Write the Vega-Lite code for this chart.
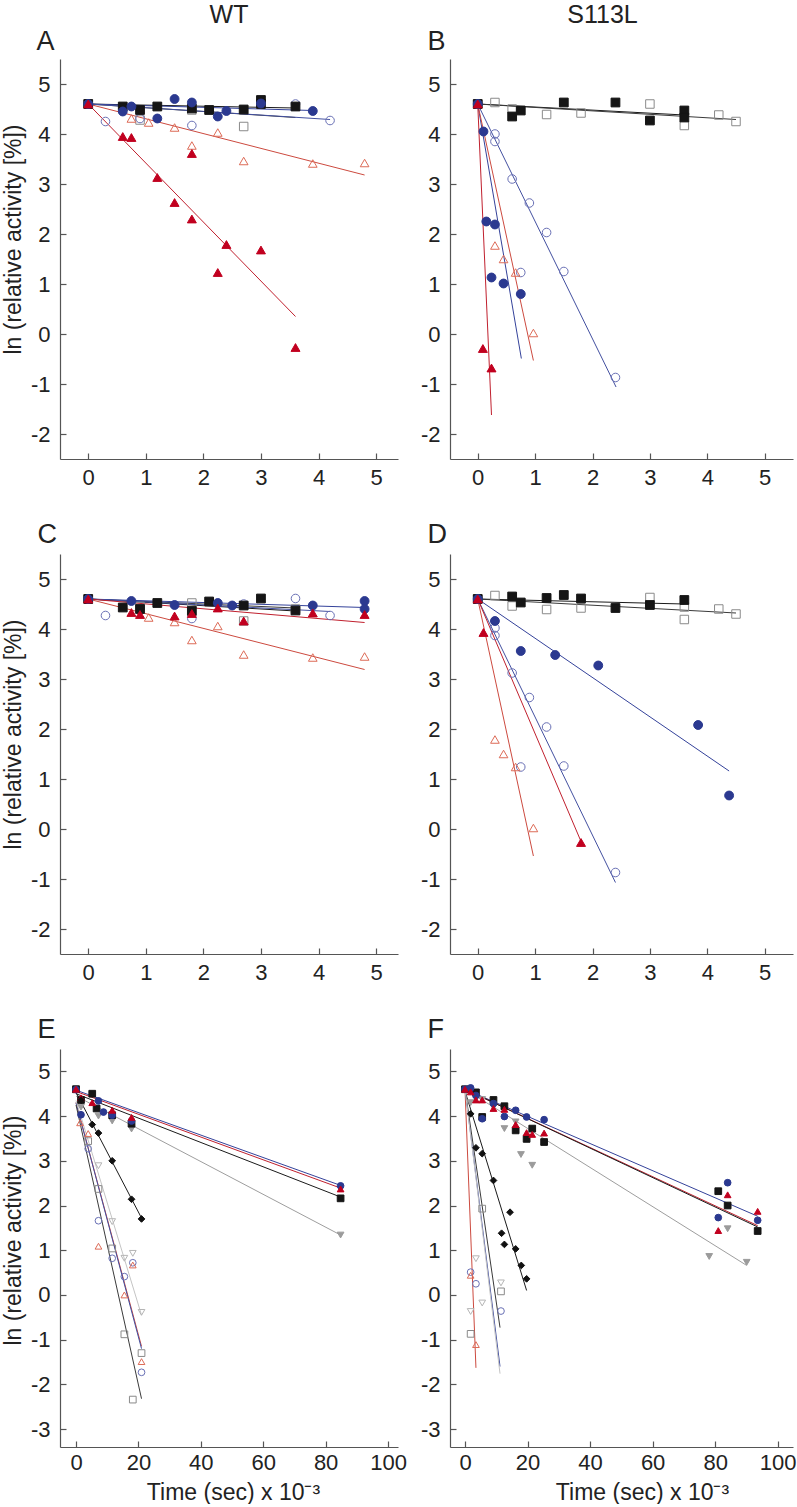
{
"$schema":"https://vega.github.io/schema/vega-lite/v6.json",
"padding":{"left":2,"top":3,"right":2,"bottom":0},
"datasets":{
"pts":[
{"p":"A","s":"osq","x":0,"y":4.6},{"p":"A","s":"osq","x":0.9,"y":4.28},{"p":"A","s":"osq","x":1.8,"y":4.48},{"p":"A","s":"osq","x":2.7,"y":4.15},
{"p":"A","s":"oci","x":0,"y":4.6},{"p":"A","s":"oci","x":0.3,"y":4.25},{"p":"A","s":"oci","x":0.9,"y":4.31},{"p":"A","s":"oci","x":1.8,"y":4.17},{"p":"A","s":"oci","x":3.6,"y":4.6},{"p":"A","s":"oci","x":4.2,"y":4.27},
{"p":"A","s":"otr","x":0,"y":4.6},{"p":"A","s":"otr","x":0.75,"y":4.31},{"p":"A","s":"otr","x":1.05,"y":4.23},{"p":"A","s":"otr","x":1.5,"y":4.13},{"p":"A","s":"otr","x":1.8,"y":3.77},{"p":"A","s":"otr","x":2.25,"y":4.03},{"p":"A","s":"otr","x":2.7,"y":3.46},{"p":"A","s":"otr","x":3.9,"y":3.41},{"p":"A","s":"otr","x":4.8,"y":3.42},
{"p":"A","s":"fsq","x":0,"y":4.6},{"p":"A","s":"fsq","x":0.6,"y":4.55},{"p":"A","s":"fsq","x":0.9,"y":4.48},{"p":"A","s":"fsq","x":1.2,"y":4.55},{"p":"A","s":"fsq","x":1.8,"y":4.51},{"p":"A","s":"fsq","x":2.1,"y":4.48},{"p":"A","s":"fsq","x":2.7,"y":4.49},{"p":"A","s":"fsq","x":3.0,"y":4.68},{"p":"A","s":"fsq","x":3.0,"y":4.6},{"p":"A","s":"fsq","x":3.6,"y":4.55},
{"p":"A","s":"fci","x":0,"y":4.6},{"p":"A","s":"fci","x":0.6,"y":4.45},{"p":"A","s":"fci","x":0.75,"y":4.55},{"p":"A","s":"fci","x":1.2,"y":4.31},{"p":"A","s":"fci","x":1.5,"y":4.7},{"p":"A","s":"fci","x":1.8,"y":4.63},{"p":"A","s":"fci","x":2.25,"y":4.35},{"p":"A","s":"fci","x":2.4,"y":4.46},{"p":"A","s":"fci","x":3.0,"y":4.61},{"p":"A","s":"fci","x":3.9,"y":4.46},
{"p":"A","s":"ftr","x":0,"y":4.6},{"p":"A","s":"ftr","x":0.6,"y":3.95},{"p":"A","s":"ftr","x":0.75,"y":3.93},{"p":"A","s":"ftr","x":1.2,"y":3.13},{"p":"A","s":"ftr","x":1.5,"y":2.63},{"p":"A","s":"ftr","x":1.8,"y":3.61},{"p":"A","s":"ftr","x":1.8,"y":2.3},{"p":"A","s":"ftr","x":2.4,"y":1.79},{"p":"A","s":"ftr","x":2.25,"y":1.23},{"p":"A","s":"ftr","x":3.0,"y":1.68},{"p":"A","s":"ftr","x":3.6,"y":-0.27},

{"p":"B","s":"osq","x":0,"y":4.6},{"p":"B","s":"osq","x":0.3,"y":4.63},{"p":"B","s":"osq","x":0.6,"y":4.5},{"p":"B","s":"osq","x":1.2,"y":4.39},{"p":"B","s":"osq","x":1.8,"y":4.42},{"p":"B","s":"osq","x":3.0,"y":4.6},{"p":"B","s":"osq","x":3.6,"y":4.17},{"p":"B","s":"osq","x":4.2,"y":4.38},{"p":"B","s":"osq","x":4.5,"y":4.25},
{"p":"B","s":"oci","x":0,"y":4.6},{"p":"B","s":"oci","x":0.3,"y":4.0},{"p":"B","s":"oci","x":0.3,"y":3.85},{"p":"B","s":"oci","x":0.6,"y":3.1},{"p":"B","s":"oci","x":0.9,"y":2.62},{"p":"B","s":"oci","x":1.2,"y":2.03},{"p":"B","s":"oci","x":0.75,"y":1.23},{"p":"B","s":"oci","x":1.5,"y":1.25},{"p":"B","s":"oci","x":2.4,"y":-0.87},
{"p":"B","s":"otr","x":0,"y":4.6},{"p":"B","s":"otr","x":0.3,"y":1.77},{"p":"B","s":"otr","x":0.45,"y":1.5},{"p":"B","s":"otr","x":0.66,"y":1.23},{"p":"B","s":"otr","x":0.97,"y":0.02},
{"p":"B","s":"fsq","x":0,"y":4.6},{"p":"B","s":"fsq","x":0.6,"y":4.35},{"p":"B","s":"fsq","x":0.75,"y":4.47},{"p":"B","s":"fsq","x":1.5,"y":4.63},{"p":"B","s":"fsq","x":2.4,"y":4.63},{"p":"B","s":"fsq","x":3.0,"y":4.27},{"p":"B","s":"fsq","x":3.6,"y":4.47},{"p":"B","s":"fsq","x":3.6,"y":4.33},
{"p":"B","s":"fci","x":0,"y":4.6},{"p":"B","s":"fci","x":0.1,"y":4.05},{"p":"B","s":"fci","x":0.15,"y":2.25},{"p":"B","s":"fci","x":0.3,"y":2.19},{"p":"B","s":"fci","x":0.24,"y":1.13},{"p":"B","s":"fci","x":0.45,"y":1.01},{"p":"B","s":"fci","x":0.75,"y":0.8},
{"p":"B","s":"ftr","x":0,"y":4.6},{"p":"B","s":"ftr","x":0.09,"y":-0.29},{"p":"B","s":"ftr","x":0.24,"y":-0.68},

{"p":"C","s":"osq","x":0,"y":4.6},{"p":"C","s":"osq","x":0.9,"y":4.45},{"p":"C","s":"osq","x":1.8,"y":4.52},{"p":"C","s":"osq","x":2.7,"y":4.16},{"p":"C","s":"osq","x":3.6,"y":4.4},
{"p":"C","s":"oci","x":0,"y":4.6},{"p":"C","s":"oci","x":0.3,"y":4.27},{"p":"C","s":"oci","x":1.8,"y":4.21},{"p":"C","s":"oci","x":2.7,"y":4.5},{"p":"C","s":"oci","x":3.6,"y":4.61},{"p":"C","s":"oci","x":4.2,"y":4.27},
{"p":"C","s":"otr","x":0,"y":4.6},{"p":"C","s":"otr","x":1.05,"y":4.23},{"p":"C","s":"otr","x":1.5,"y":4.14},{"p":"C","s":"otr","x":1.8,"y":3.78},{"p":"C","s":"otr","x":2.25,"y":4.06},{"p":"C","s":"otr","x":2.7,"y":3.49},{"p":"C","s":"otr","x":3.9,"y":3.43},{"p":"C","s":"otr","x":4.8,"y":3.45},
{"p":"C","s":"fsq","x":0,"y":4.6},{"p":"C","s":"fsq","x":0.6,"y":4.43},{"p":"C","s":"fsq","x":0.9,"y":4.4},{"p":"C","s":"fsq","x":1.2,"y":4.52},{"p":"C","s":"fsq","x":1.8,"y":4.36},{"p":"C","s":"fsq","x":2.1,"y":4.55},{"p":"C","s":"fsq","x":2.7,"y":4.47},{"p":"C","s":"fsq","x":3.0,"y":4.61},{"p":"C","s":"fsq","x":3.6,"y":4.37},
{"p":"C","s":"fci","x":0,"y":4.6},{"p":"C","s":"fci","x":0.75,"y":4.56},{"p":"C","s":"fci","x":1.5,"y":4.48},{"p":"C","s":"fci","x":2.25,"y":4.52},{"p":"C","s":"fci","x":2.5,"y":4.47},{"p":"C","s":"fci","x":3.9,"y":4.47},{"p":"C","s":"fci","x":4.8,"y":4.56},{"p":"C","s":"fci","x":4.8,"y":4.4},
{"p":"C","s":"ftr","x":0,"y":4.6},{"p":"C","s":"ftr","x":0.75,"y":4.33},{"p":"C","s":"ftr","x":0.9,"y":4.29},{"p":"C","s":"ftr","x":1.5,"y":4.26},{"p":"C","s":"ftr","x":1.8,"y":4.31},{"p":"C","s":"ftr","x":2.25,"y":4.42},{"p":"C","s":"ftr","x":2.7,"y":4.16},{"p":"C","s":"ftr","x":3.9,"y":4.32},{"p":"C","s":"ftr","x":4.8,"y":4.29},

{"p":"D","s":"osq","x":0,"y":4.6},{"p":"D","s":"osq","x":0.3,"y":4.67},{"p":"D","s":"osq","x":0.6,"y":4.46},{"p":"D","s":"osq","x":1.2,"y":4.39},{"p":"D","s":"osq","x":1.8,"y":4.42},{"p":"D","s":"osq","x":3.0,"y":4.63},{"p":"D","s":"osq","x":3.6,"y":4.44},{"p":"D","s":"osq","x":3.6,"y":4.19},{"p":"D","s":"osq","x":4.2,"y":4.4},{"p":"D","s":"osq","x":4.5,"y":4.3},
{"p":"D","s":"oci","x":0,"y":4.6},{"p":"D","s":"oci","x":0.3,"y":4.02},{"p":"D","s":"oci","x":0.3,"y":3.87},{"p":"D","s":"oci","x":0.6,"y":3.12},{"p":"D","s":"oci","x":0.9,"y":2.63},{"p":"D","s":"oci","x":1.2,"y":2.04},{"p":"D","s":"oci","x":0.75,"y":1.24},{"p":"D","s":"oci","x":1.5,"y":1.26},{"p":"D","s":"oci","x":2.4,"y":-0.87},
{"p":"D","s":"otr","x":0,"y":4.6},{"p":"D","s":"otr","x":0.3,"y":1.79},{"p":"D","s":"otr","x":0.45,"y":1.5},{"p":"D","s":"otr","x":0.66,"y":1.24},{"p":"D","s":"otr","x":0.97,"y":0.02},
{"p":"D","s":"fsq","x":0,"y":4.6},{"p":"D","s":"fsq","x":0.6,"y":4.65},{"p":"D","s":"fsq","x":0.75,"y":4.53},{"p":"D","s":"fsq","x":1.2,"y":4.62},{"p":"D","s":"fsq","x":1.5,"y":4.68},{"p":"D","s":"fsq","x":1.8,"y":4.61},{"p":"D","s":"fsq","x":2.4,"y":4.42},{"p":"D","s":"fsq","x":3.0,"y":4.48},{"p":"D","s":"fsq","x":3.6,"y":4.58},
{"p":"D","s":"fci","x":0,"y":4.6},{"p":"D","s":"fci","x":0.3,"y":4.16},{"p":"D","s":"fci","x":0.75,"y":3.56},{"p":"D","s":"fci","x":1.35,"y":3.48},{"p":"D","s":"fci","x":2.1,"y":3.27},{"p":"D","s":"fci","x":3.84,"y":2.08},{"p":"D","s":"fci","x":4.38,"y":0.67},
{"p":"D","s":"ftr","x":0,"y":4.6},{"p":"D","s":"ftr","x":0.1,"y":3.93},{"p":"D","s":"ftr","x":1.8,"y":-0.27},

{"p":"E","s":"osq","x":0,"y":4.6},{"p":"E","s":"osq","x":3.9,"y":3.44},{"p":"E","s":"osq","x":7.2,"y":2.37},{"p":"E","s":"osq","x":11.6,"y":1.04},{"p":"E","s":"osq","x":15.5,"y":-0.88},{"p":"E","s":"osq","x":18.2,"y":-2.34},{"p":"E","s":"osq","x":21.0,"y":-1.3},
{"p":"E","s":"oci","x":3.9,"y":3.27},{"p":"E","s":"oci","x":7.2,"y":1.66},{"p":"E","s":"oci","x":11.6,"y":0.82},{"p":"E","s":"oci","x":15.5,"y":0.41},{"p":"E","s":"oci","x":18.2,"y":0.72},{"p":"E","s":"oci","x":21.0,"y":-1.73},
{"p":"E","s":"otr","x":1.3,"y":3.85},{"p":"E","s":"otr","x":3.9,"y":3.61},{"p":"E","s":"otr","x":7.2,"y":1.09},{"p":"E","s":"otr","x":15.5,"y":0.0},{"p":"E","s":"otr","x":18.2,"y":0.67},{"p":"E","s":"otr","x":21.0,"y":-1.49},
{"p":"E","s":"odt","x":7.2,"y":2.89},{"p":"E","s":"odt","x":11.6,"y":1.64},{"p":"E","s":"odt","x":15.5,"y":0.82},{"p":"E","s":"odt","x":18.2,"y":0.93},{"p":"E","s":"odt","x":21.0,"y":-0.39},
{"p":"E","s":"fdt","x":0,"y":4.6},{"p":"E","s":"fdt","x":1.6,"y":4.2},{"p":"E","s":"fdt","x":7.2,"y":4.0},{"p":"E","s":"fdt","x":11.6,"y":3.89},{"p":"E","s":"fdt","x":17.8,"y":3.71},{"p":"E","s":"fdt","x":84.8,"y":1.34},
{"p":"E","s":"fsq","x":0,"y":4.6},{"p":"E","s":"fsq","x":1.6,"y":4.36},{"p":"E","s":"fsq","x":5.2,"y":4.5},{"p":"E","s":"fsq","x":6.6,"y":4.17},{"p":"E","s":"fsq","x":11.6,"y":4.02},{"p":"E","s":"fsq","x":17.8,"y":3.83},{"p":"E","s":"fsq","x":84.8,"y":2.16},
{"p":"E","s":"fci","x":0,"y":4.59},{"p":"E","s":"fci","x":1.6,"y":4.03},{"p":"E","s":"fci","x":7.2,"y":4.34},{"p":"E","s":"fci","x":8.8,"y":4.09},{"p":"E","s":"fci","x":11.6,"y":4.02},{"p":"E","s":"fci","x":17.8,"y":3.89},{"p":"E","s":"fci","x":84.8,"y":2.44},
{"p":"E","s":"ftr","x":0,"y":4.6},{"p":"E","s":"ftr","x":1.6,"y":4.41},{"p":"E","s":"ftr","x":5.2,"y":4.3},{"p":"E","s":"ftr","x":11.6,"y":4.13},{"p":"E","s":"ftr","x":17.8,"y":3.97},{"p":"E","s":"ftr","x":84.8,"y":2.37},
{"p":"E","s":"fdi","x":1.6,"y":4.36},{"p":"E","s":"fdi","x":5.2,"y":3.81},{"p":"E","s":"fdi","x":7.2,"y":3.62},{"p":"E","s":"fdi","x":11.6,"y":3.0},{"p":"E","s":"fdi","x":17.8,"y":2.14},{"p":"E","s":"fdi","x":21.0,"y":1.7},

{"p":"F","s":"osq","x":5.5,"y":1.93},{"p":"F","s":"osq","x":1.8,"y":-0.87},{"p":"F","s":"osq","x":11.5,"y":0.08},
{"p":"F","s":"oci","x":1.8,"y":0.51},{"p":"F","s":"oci","x":3.5,"y":0.25},{"p":"F","s":"oci","x":11.5,"y":-0.36},
{"p":"F","s":"otr","x":1.8,"y":0.44},{"p":"F","s":"otr","x":3.5,"y":-1.11},
{"p":"F","s":"odt","x":3.5,"y":0.81},{"p":"F","s":"odt","x":1.8,"y":-0.37},{"p":"F","s":"odt","x":5.5,"y":-0.18},{"p":"F","s":"odt","x":11.5,"y":0.27},
{"p":"F","s":"fdt","x":0,"y":4.6},{"p":"F","s":"fdt","x":1.8,"y":4.3},{"p":"F","s":"fdt","x":5.5,"y":4.37},{"p":"F","s":"fdt","x":9.1,"y":4.2},{"p":"F","s":"fdt","x":12.6,"y":3.72},{"p":"F","s":"fdt","x":16.2,"y":3.87},{"p":"F","s":"fdt","x":17.9,"y":3.14},{"p":"F","s":"fdt","x":21.5,"y":2.9},{"p":"F","s":"fdt","x":78.1,"y":0.86},{"p":"F","s":"fdt","x":84.0,"y":1.48},{"p":"F","s":"fdt","x":90.1,"y":0.73},
{"p":"F","s":"fsq","x":0,"y":4.6},{"p":"F","s":"fsq","x":3.5,"y":4.53},{"p":"F","s":"fsq","x":5.5,"y":3.98},{"p":"F","s":"fsq","x":9.1,"y":4.36},{"p":"F","s":"fsq","x":12.6,"y":4.22},{"p":"F","s":"fsq","x":16.2,"y":3.68},{"p":"F","s":"fsq","x":19.7,"y":3.49},{"p":"F","s":"fsq","x":21.5,"y":3.72},{"p":"F","s":"fsq","x":25.3,"y":3.42},{"p":"F","s":"fsq","x":81.0,"y":2.32},{"p":"F","s":"fsq","x":84.0,"y":2.0},{"p":"F","s":"fsq","x":93.6,"y":1.43},
{"p":"F","s":"fci","x":0,"y":4.6},{"p":"F","s":"fci","x":1.8,"y":4.63},{"p":"F","s":"fci","x":3.5,"y":4.46},{"p":"F","s":"fci","x":5.5,"y":3.94},{"p":"F","s":"fci","x":9.1,"y":4.28},{"p":"F","s":"fci","x":12.6,"y":3.99},{"p":"F","s":"fci","x":16.2,"y":4.13},{"p":"F","s":"fci","x":19.7,"y":3.98},{"p":"F","s":"fci","x":25.3,"y":3.92},{"p":"F","s":"fci","x":81.0,"y":1.73},{"p":"F","s":"fci","x":84.0,"y":2.51},{"p":"F","s":"fci","x":93.6,"y":1.67},
{"p":"F","s":"ftr","x":0,"y":4.6},{"p":"F","s":"ftr","x":1.8,"y":4.54},{"p":"F","s":"ftr","x":3.5,"y":4.36},{"p":"F","s":"ftr","x":5.5,"y":4.36},{"p":"F","s":"ftr","x":9.1,"y":4.17},{"p":"F","s":"ftr","x":12.6,"y":4.15},{"p":"F","s":"ftr","x":16.2,"y":3.81},{"p":"F","s":"ftr","x":19.7,"y":3.63},{"p":"F","s":"ftr","x":21.5,"y":3.59},{"p":"F","s":"ftr","x":25.3,"y":3.62},{"p":"F","s":"ftr","x":81.0,"y":1.44},{"p":"F","s":"ftr","x":84.0,"y":2.24},{"p":"F","s":"ftr","x":93.6,"y":1.87},
{"p":"F","s":"fdi","x":1.8,"y":4.05},{"p":"F","s":"fdi","x":3.5,"y":3.29},{"p":"F","s":"fdi","x":5.5,"y":3.16},{"p":"F","s":"fdi","x":9.1,"y":2.56},{"p":"F","s":"fdi","x":11.7,"y":1.38},{"p":"F","s":"fdi","x":12.6,"y":1.13},{"p":"F","s":"fdi","x":14.4,"y":1.85},{"p":"F","s":"fdi","x":16.2,"y":1.03},{"p":"F","s":"fdi","x":18.0,"y":0.66},{"p":"F","s":"fdi","x":19.7,"y":0.36}
],
"lns":[
{"p":"A","s":"fsq","x":0,"y":4.6},{"p":"A","s":"fsq","x":3.6,"y":4.52},
{"p":"A","s":"osq","x":0,"y":4.6},{"p":"A","s":"osq","x":3.6,"y":4.33},
{"p":"A","s":"fci","x":0,"y":4.6},{"p":"A","s":"fci","x":3.9,"y":4.47},
{"p":"A","s":"oci","x":0,"y":4.6},{"p":"A","s":"oci","x":4.2,"y":4.29},
{"p":"A","s":"otr","x":0,"y":4.6},{"p":"A","s":"otr","x":4.8,"y":3.18},
{"p":"A","s":"ftr","x":0,"y":4.6},{"p":"A","s":"ftr","x":3.6,"y":0.35},
{"p":"B","s":"fsq","x":0,"y":4.6},{"p":"B","s":"fsq","x":3.6,"y":4.38},
{"p":"B","s":"osq","x":0,"y":4.6},{"p":"B","s":"osq","x":4.5,"y":4.29},
{"p":"B","s":"fci","x":0,"y":4.6},{"p":"B","s":"fci","x":0.76,"y":-0.49},
{"p":"B","s":"oci","x":0,"y":4.6},{"p":"B","s":"oci","x":2.41,"y":-1.06},
{"p":"B","s":"otr","x":0,"y":4.6},{"p":"B","s":"otr","x":0.97,"y":-0.53},
{"p":"B","s":"ftr","x":0,"y":4.6},{"p":"B","s":"ftr","x":0.24,"y":-1.62},
{"p":"C","s":"fsq","x":0,"y":4.6},{"p":"C","s":"fsq","x":3.6,"y":4.36},
{"p":"C","s":"osq","x":0,"y":4.6},{"p":"C","s":"osq","x":3.6,"y":4.42},
{"p":"C","s":"fci","x":0,"y":4.6},{"p":"C","s":"fci","x":4.8,"y":4.43},
{"p":"C","s":"oci","x":0,"y":4.6},{"p":"C","s":"oci","x":4.2,"y":4.35},
{"p":"C","s":"ftr","x":0,"y":4.6},{"p":"C","s":"ftr","x":4.8,"y":4.13},
{"p":"C","s":"otr","x":0,"y":4.6},{"p":"C","s":"otr","x":4.8,"y":3.19},
{"p":"D","s":"fsq","x":0,"y":4.6},{"p":"D","s":"fsq","x":3.6,"y":4.5},
{"p":"D","s":"osq","x":0,"y":4.6},{"p":"D","s":"osq","x":4.5,"y":4.32},
{"p":"D","s":"fci","x":0,"y":4.6},{"p":"D","s":"fci","x":4.38,"y":1.16},
{"p":"D","s":"oci","x":0,"y":4.6},{"p":"D","s":"oci","x":2.4,"y":-1.07},
{"p":"D","s":"otr","x":0,"y":4.6},{"p":"D","s":"otr","x":0.97,"y":-0.54},
{"p":"D","s":"ftr","x":0,"y":4.6},{"p":"D","s":"ftr","x":1.8,"y":-0.25},
{"p":"E","s":"fci","x":0,"y":4.58},{"p":"E","s":"fci","x":84.8,"y":2.45},
{"p":"E","s":"ftr","x":0,"y":4.55},{"p":"E","s":"ftr","x":84.8,"y":2.39},
{"p":"E","s":"fsq","x":0,"y":4.5},{"p":"E","s":"fsq","x":84.8,"y":2.19},
{"p":"E","s":"fdt","x":0,"y":4.45},{"p":"E","s":"fdt","x":84.8,"y":1.34},
{"p":"E","s":"fdi","x":0,"y":4.53},{"p":"E","s":"fdi","x":21.0,"y":1.72},
{"p":"E","s":"otr","x":0,"y":4.3},{"p":"E","s":"otr","x":21.0,"y":-1.15},
{"p":"E","s":"oci","x":0,"y":4.3},{"p":"E","s":"oci","x":21.0,"y":-1.2},
{"p":"E","s":"osq","x":0,"y":4.25},{"p":"E","s":"osq","x":21.0,"y":-2.32},
{"p":"E","s":"odt","x":0,"y":4.35},{"p":"E","s":"odt","x":21.0,"y":-0.45},
{"p":"F","s":"fci","x":0,"y":4.6},{"p":"F","s":"fci","x":93.6,"y":1.76},
{"p":"F","s":"ftr","x":0,"y":4.6},{"p":"F","s":"ftr","x":93.6,"y":1.55},
{"p":"F","s":"fsq","x":0,"y":4.6},{"p":"F","s":"fsq","x":93.6,"y":1.52},
{"p":"F","s":"fdt","x":0,"y":4.6},{"p":"F","s":"fdt","x":90.1,"y":0.66},
{"p":"F","s":"fdi","x":0,"y":4.56},{"p":"F","s":"fdi","x":19.7,"y":0.1},
{"p":"F","s":"otr","x":0,"y":4.6},{"p":"F","s":"otr","x":3.5,"y":-1.63},
{"p":"F","s":"oci","x":0,"y":4.6},{"p":"F","s":"oci","x":11.2,"y":-1.6},
{"p":"F","s":"osq","x":0,"y":4.6},{"p":"F","s":"osq","x":11.2,"y":-0.73},
{"p":"F","s":"odt","x":0,"y":4.6},{"p":"F","s":"odt","x":11.2,"y":-1.76}
]
},
"columns":2,
"spacing":{"row":95,"column":52},
"bounds":"flush",
"resolve":{"scale":{"x":"independent","y":"independent","size":"independent","fill":"independent","stroke":"independent","shape":"independent","color":"independent"}},
"concat":[
{"width":338,"height":400,
 "title":{"text":"WT","anchor":"middle","offset":-21,"baseline":"alphabetic","fontSize":25,"font":"Liberation Sans","fontWeight":"normal","color":"#222"},
 "resolve":{"axis":{"x":"independent"}},
 "layer":[
  {"data":{"name":"lns"},"transform":[{"filter":"datum.p==='A'"}],"mark":{"type":"line","strokeWidth":1},
   "encoding":{
    "x":{"field":"x","type":"quantitative","scale":{"domain":[-0.49,5.38],"nice":false,"zero":false},"axis":{"orient":"top","title":"A","domain":false,"ticks":false,"labels":false,"titleFontSize":27,"titleX":-24,"titleY":-10,"titleAlign":"left","titleBaseline":"alphabetic","titleAngle":0,"titlePadding":0}},
    "y":{"field":"y","type":"quantitative","scale":{"domain":[-2.5,5.5],"nice":false,"zero":false},"axis":{"values":[-2,-1,0,1,2,3,4,5],"labelExpr":"''+datum.value","labelPadding":16,"title":"ln (relative activity [%])","titleX":-40,"titleY":180,"titleBaseline":"alphabetic","titleAlign":"center","titleAngle":270}},
    "color":{"field":"s","type":"nominal","legend":null,"scale":{"domain":["osq","oci","otr","fsq","fci","ftr","fdt","fdi","odt"],"range":["#3a3a3a","#4350a0","#cc4a3f","#1a1a1a","#34429a","#c0202e","#9e9e9e","#1a1a1a","#c4c4c4"]}}}},
  {"data":{"name":"pts"},"transform":[{"filter":"datum.p==='A'"}],"mark":{"type":"point","filled":true,"opacity":1,"strokeWidth":1},
   "encoding":{
    "x":{"field":"x","type":"quantitative","scale":{"domain":[-0.49,5.38],"nice":false,"zero":false},"axis":{"orient":"bottom","values":[0,1,2,3,4,5],"labelExpr":"''+datum.value","labelPadding":14,"title":null}},
    "y":{"field":"y","type":"quantitative","scale":{"domain":[-2.5,5.5],"nice":false,"zero":false},"axis":{"values":[-2,-1,0,1,2,3,4,5],"labelExpr":"''+datum.value","labelPadding":16,"title":"ln (relative activity [%])","titleX":-40,"titleY":180,"titleBaseline":"alphabetic","titleAlign":"center","titleAngle":270}},
    "shape":{"field":"s","type":"nominal","legend":null,"scale":{"domain":["osq","oci","otr","fsq","fci","ftr","fdt","fdi","odt"],"range":["square","circle","triangle-up","square","circle","triangle-up","triangle-down","diamond","triangle-down"]}},
    "fill":{"field":"s","type":"nominal","legend":null,"scale":{"domain":["osq","oci","otr","fsq","fci","ftr","fdt","fdi","odt"],"range":["transparent","transparent","transparent","#151515","#2b3990","#c1001f","#9b9b9b","#111111","transparent"]}},
    "stroke":{"field":"s","type":"nominal","legend":null,"scale":{"domain":["osq","oci","otr","fsq","fci","ftr","fdt","fdi","odt"],"range":["#8a8a8a","#6970b5","#dd6b57","#151515","#2b3990","#c1001f","#9b9b9b","#111111","#b5b5b5"]}},
    "size":{"field":"s","type":"nominal","legend":null,"scale":{"domain":["osq","oci","otr","fsq","fci","ftr","fdt","fdi","odt"],"range":[72,85,85,85,88,95,60,40,60]}}}}
 ]},
{"width":343,"height":400,
 "title":{"text":"S113L","anchor":"middle","offset":-21,"dx":-19,"baseline":"alphabetic","fontSize":25,"font":"Liberation Sans","fontWeight":"normal","color":"#222"},
 "resolve":{"axis":{"x":"independent"}},
 "layer":[
  {"data":{"name":"lns"},"transform":[{"filter":"datum.p==='B'"}],"mark":{"type":"line","strokeWidth":1},
   "encoding":{
    "x":{"field":"x","type":"quantitative","scale":{"domain":[-0.483,5.493],"nice":false,"zero":false},"axis":{"orient":"top","title":"B","domain":false,"ticks":false,"labels":false,"titleFontSize":27,"titleX":-23,"titleY":-10,"titleAlign":"left","titleBaseline":"alphabetic","titleAngle":0,"titlePadding":0}},
    "y":{"field":"y","type":"quantitative","scale":{"domain":[-2.5,5.5],"nice":false,"zero":false},"axis":{"values":[-2,-1,0,1,2,3,4,5],"labelExpr":"''+datum.value","labelPadding":16,"title":null}},
    "color":{"field":"s","type":"nominal","legend":null,"scale":{"domain":["osq","oci","otr","fsq","fci","ftr","fdt","fdi","odt"],"range":["#3a3a3a","#4350a0","#cc4a3f","#1a1a1a","#34429a","#c0202e","#9e9e9e","#1a1a1a","#c4c4c4"]}}}},
  {"data":{"name":"pts"},"transform":[{"filter":"datum.p==='B'"}],"mark":{"type":"point","filled":true,"opacity":1,"strokeWidth":1},
   "encoding":{
    "x":{"field":"x","type":"quantitative","scale":{"domain":[-0.483,5.493],"nice":false,"zero":false},"axis":{"orient":"bottom","values":[0,1,2,3,4,5],"labelExpr":"''+datum.value","labelPadding":14,"title":null}},
    "y":{"field":"y","type":"quantitative","scale":{"domain":[-2.5,5.5],"nice":false,"zero":false},"axis":{"values":[-2,-1,0,1,2,3,4,5],"labelExpr":"''+datum.value","labelPadding":16,"title":null}},
    "shape":{"field":"s","type":"nominal","legend":null,"scale":{"domain":["osq","oci","otr","fsq","fci","ftr","fdt","fdi","odt"],"range":["square","circle","triangle-up","square","circle","triangle-up","triangle-down","diamond","triangle-down"]}},
    "fill":{"field":"s","type":"nominal","legend":null,"scale":{"domain":["osq","oci","otr","fsq","fci","ftr","fdt","fdi","odt"],"range":["transparent","transparent","transparent","#151515","#2b3990","#c1001f","#9b9b9b","#111111","transparent"]}},
    "stroke":{"field":"s","type":"nominal","legend":null,"scale":{"domain":["osq","oci","otr","fsq","fci","ftr","fdt","fdi","odt"],"range":["#8a8a8a","#6970b5","#dd6b57","#151515","#2b3990","#c1001f","#9b9b9b","#111111","#b5b5b5"]}},
    "size":{"field":"s","type":"nominal","legend":null,"scale":{"domain":["osq","oci","otr","fsq","fci","ftr","fdt","fdi","odt"],"range":[72,85,85,85,88,95,60,40,60]}}}}
 ]},
{"width":338,"height":400,
 "resolve":{"axis":{"x":"independent"}},
 "layer":[
  {"data":{"name":"lns"},"transform":[{"filter":"datum.p==='C'"}],"mark":{"type":"line","strokeWidth":1},
   "encoding":{
    "x":{"field":"x","type":"quantitative","scale":{"domain":[-0.49,5.38],"nice":false,"zero":false},"axis":{"orient":"top","title":"C","domain":false,"ticks":false,"labels":false,"titleFontSize":27,"titleX":-23,"titleY":-12,"titleAlign":"left","titleBaseline":"alphabetic","titleAngle":0,"titlePadding":0}},
    "y":{"field":"y","type":"quantitative","scale":{"domain":[-2.5,5.5],"nice":false,"zero":false},"axis":{"values":[-2,-1,0,1,2,3,4,5],"labelExpr":"''+datum.value","labelPadding":16,"title":"ln (relative activity [%])","titleX":-40,"titleY":180,"titleBaseline":"alphabetic","titleAlign":"center","titleAngle":270}},
    "color":{"field":"s","type":"nominal","legend":null,"scale":{"domain":["osq","oci","otr","fsq","fci","ftr","fdt","fdi","odt"],"range":["#3a3a3a","#4350a0","#cc4a3f","#1a1a1a","#34429a","#c0202e","#9e9e9e","#1a1a1a","#c4c4c4"]}}}},
  {"data":{"name":"pts"},"transform":[{"filter":"datum.p==='C'"}],"mark":{"type":"point","filled":true,"opacity":1,"strokeWidth":1},
   "encoding":{
    "x":{"field":"x","type":"quantitative","scale":{"domain":[-0.49,5.38],"nice":false,"zero":false},"axis":{"orient":"bottom","values":[0,1,2,3,4,5],"labelExpr":"''+datum.value","labelPadding":14,"title":null}},
    "y":{"field":"y","type":"quantitative","scale":{"domain":[-2.5,5.5],"nice":false,"zero":false},"axis":{"values":[-2,-1,0,1,2,3,4,5],"labelExpr":"''+datum.value","labelPadding":16,"title":"ln (relative activity [%])","titleX":-40,"titleY":180,"titleBaseline":"alphabetic","titleAlign":"center","titleAngle":270}},
    "shape":{"field":"s","type":"nominal","legend":null,"scale":{"domain":["osq","oci","otr","fsq","fci","ftr","fdt","fdi","odt"],"range":["square","circle","triangle-up","square","circle","triangle-up","triangle-down","diamond","triangle-down"]}},
    "fill":{"field":"s","type":"nominal","legend":null,"scale":{"domain":["osq","oci","otr","fsq","fci","ftr","fdt","fdi","odt"],"range":["transparent","transparent","transparent","#151515","#2b3990","#c1001f","#9b9b9b","#111111","transparent"]}},
    "stroke":{"field":"s","type":"nominal","legend":null,"scale":{"domain":["osq","oci","otr","fsq","fci","ftr","fdt","fdi","odt"],"range":["#8a8a8a","#6970b5","#dd6b57","#151515","#2b3990","#c1001f","#9b9b9b","#111111","#b5b5b5"]}},
    "size":{"field":"s","type":"nominal","legend":null,"scale":{"domain":["osq","oci","otr","fsq","fci","ftr","fdt","fdi","odt"],"range":[72,85,85,85,88,95,60,40,60]}}}}
 ]},
{"width":343,"height":400,
 "resolve":{"axis":{"x":"independent"}},
 "layer":[
  {"data":{"name":"lns"},"transform":[{"filter":"datum.p==='D'"}],"mark":{"type":"line","strokeWidth":1},
   "encoding":{
    "x":{"field":"x","type":"quantitative","scale":{"domain":[-0.483,5.493],"nice":false,"zero":false},"axis":{"orient":"top","title":"D","domain":false,"ticks":false,"labels":false,"titleFontSize":27,"titleX":-23,"titleY":-12,"titleAlign":"left","titleBaseline":"alphabetic","titleAngle":0,"titlePadding":0}},
    "y":{"field":"y","type":"quantitative","scale":{"domain":[-2.5,5.5],"nice":false,"zero":false},"axis":{"values":[-2,-1,0,1,2,3,4,5],"labelExpr":"''+datum.value","labelPadding":16,"title":null}},
    "color":{"field":"s","type":"nominal","legend":null,"scale":{"domain":["osq","oci","otr","fsq","fci","ftr","fdt","fdi","odt"],"range":["#3a3a3a","#4350a0","#cc4a3f","#1a1a1a","#34429a","#c0202e","#9e9e9e","#1a1a1a","#c4c4c4"]}}}},
  {"data":{"name":"pts"},"transform":[{"filter":"datum.p==='D'"}],"mark":{"type":"point","filled":true,"opacity":1,"strokeWidth":1},
   "encoding":{
    "x":{"field":"x","type":"quantitative","scale":{"domain":[-0.483,5.493],"nice":false,"zero":false},"axis":{"orient":"bottom","values":[0,1,2,3,4,5],"labelExpr":"''+datum.value","labelPadding":14,"title":null}},
    "y":{"field":"y","type":"quantitative","scale":{"domain":[-2.5,5.5],"nice":false,"zero":false},"axis":{"values":[-2,-1,0,1,2,3,4,5],"labelExpr":"''+datum.value","labelPadding":16,"title":null}},
    "shape":{"field":"s","type":"nominal","legend":null,"scale":{"domain":["osq","oci","otr","fsq","fci","ftr","fdt","fdi","odt"],"range":["square","circle","triangle-up","square","circle","triangle-up","triangle-down","diamond","triangle-down"]}},
    "fill":{"field":"s","type":"nominal","legend":null,"scale":{"domain":["osq","oci","otr","fsq","fci","ftr","fdt","fdi","odt"],"range":["transparent","transparent","transparent","#151515","#2b3990","#c1001f","#9b9b9b","#111111","transparent"]}},
    "stroke":{"field":"s","type":"nominal","legend":null,"scale":{"domain":["osq","oci","otr","fsq","fci","ftr","fdt","fdi","odt"],"range":["#8a8a8a","#6970b5","#dd6b57","#151515","#2b3990","#c1001f","#9b9b9b","#111111","#b5b5b5"]}},
    "size":{"field":"s","type":"nominal","legend":null,"scale":{"domain":["osq","oci","otr","fsq","fci","ftr","fdt","fdi","odt"],"range":[72,85,85,85,88,95,60,40,60]}}}}
 ]},
{"width":338,"height":398,
 "resolve":{"axis":{"x":"independent"}},
 "layer":[
  {"data":{"name":"lns"},"transform":[{"filter":"datum.p==='E'"}],"mark":{"type":"line","strokeWidth":1},
   "encoding":{
    "x":{"field":"x","type":"quantitative","scale":{"domain":[-5.13,103.2],"nice":false,"zero":false},"axis":{"orient":"top","title":"E","domain":false,"ticks":false,"labels":false,"titleFontSize":27,"titleX":-23,"titleY":-12,"titleAlign":"left","titleBaseline":"alphabetic","titleAngle":0,"titlePadding":0}},
    "y":{"field":"y","type":"quantitative","scale":{"domain":[-3.4,5.5],"nice":false,"zero":false},"axis":{"values":[-3,-2,-1,0,1,2,3,4,5],"labelExpr":"''+datum.value","labelPadding":16,"title":"ln (relative activity [%])","titleX":-40,"titleY":181,"titleBaseline":"alphabetic","titleAlign":"center","titleAngle":270}},
    "color":{"field":"s","type":"nominal","legend":null,"scale":{"domain":["osq","oci","otr","fsq","fci","ftr","fdt","fdi","odt"],"range":["#3a3a3a","#4350a0","#cc4a3f","#1a1a1a","#34429a","#c0202e","#9e9e9e","#1a1a1a","#c4c4c4"]}}}},
  {"data":{"name":"pts"},"transform":[{"filter":"datum.p==='E'"}],"mark":{"type":"point","filled":true,"opacity":1,"strokeWidth":1},
   "encoding":{
    "x":{"field":"x","type":"quantitative","scale":{"domain":[-5.13,103.2],"nice":false,"zero":false},"axis":{"orient":"bottom","values":[0,20,40,60,80,100],"labelExpr":"''+datum.value","labelPadding":11,"title":"Time (sec) x 10⁻³","titleX":173,"titleY":52,"titleBaseline":"alphabetic","titleAlign":"center"}},
    "y":{"field":"y","type":"quantitative","scale":{"domain":[-3.4,5.5],"nice":false,"zero":false},"axis":{"values":[-3,-2,-1,0,1,2,3,4,5],"labelExpr":"''+datum.value","labelPadding":16,"title":"ln (relative activity [%])","titleX":-40,"titleY":181,"titleBaseline":"alphabetic","titleAlign":"center","titleAngle":270}},
    "shape":{"field":"s","type":"nominal","legend":null,"scale":{"domain":["osq","oci","otr","fsq","fci","ftr","fdt","fdi","odt"],"range":["square","circle","triangle-up","square","circle","triangle-up","triangle-down","diamond","triangle-down"]}},
    "fill":{"field":"s","type":"nominal","legend":null,"scale":{"domain":["osq","oci","otr","fsq","fci","ftr","fdt","fdi","odt"],"range":["transparent","transparent","transparent","#151515","#2b3990","#c1001f","#9b9b9b","#111111","transparent"]}},
    "stroke":{"field":"s","type":"nominal","legend":null,"scale":{"domain":["osq","oci","otr","fsq","fci","ftr","fdt","fdi","odt"],"range":["#8a8a8a","#6970b5","#dd6b57","#151515","#2b3990","#c1001f","#9b9b9b","#111111","#b5b5b5"]}},
    "size":{"field":"s","type":"nominal","legend":null,"scale":{"domain":["osq","oci","otr","fsq","fci","ftr","fdt","fdi","odt"],"range":[45,45,48,64,60,64,56,36,50]}}}}
 ]},
{"width":343,"height":398,
 "resolve":{"axis":{"x":"independent"}},
 "layer":[
  {"data":{"name":"lns"},"transform":[{"filter":"datum.p==='F'"}],"mark":{"type":"line","strokeWidth":1},
   "encoding":{
    "x":{"field":"x","type":"quantitative","scale":{"domain":[-4.8,104.9],"nice":false,"zero":false},"axis":{"orient":"top","title":"F","domain":false,"ticks":false,"labels":false,"titleFontSize":27,"titleX":-23,"titleY":-12,"titleAlign":"left","titleBaseline":"alphabetic","titleAngle":0,"titlePadding":0}},
    "y":{"field":"y","type":"quantitative","scale":{"domain":[-3.4,5.5],"nice":false,"zero":false},"axis":{"values":[-3,-2,-1,0,1,2,3,4,5],"labelExpr":"''+datum.value","labelPadding":16,"title":null}},
    "color":{"field":"s","type":"nominal","legend":null,"scale":{"domain":["osq","oci","otr","fsq","fci","ftr","fdt","fdi","odt"],"range":["#3a3a3a","#4350a0","#cc4a3f","#1a1a1a","#34429a","#c0202e","#9e9e9e","#1a1a1a","#c4c4c4"]}}}},
  {"data":{"name":"pts"},"transform":[{"filter":"datum.p==='F'"}],"mark":{"type":"point","filled":true,"opacity":1,"strokeWidth":1},
   "encoding":{
    "x":{"field":"x","type":"quantitative","scale":{"domain":[-4.8,104.9],"nice":false,"zero":false},"axis":{"orient":"bottom","values":[0,20,40,60,80,100],"labelExpr":"''+datum.value","labelPadding":11,"title":"Time (sec) x 10⁻³","titleX":192,"titleY":52,"titleBaseline":"alphabetic","titleAlign":"center"}},
    "y":{"field":"y","type":"quantitative","scale":{"domain":[-3.4,5.5],"nice":false,"zero":false},"axis":{"values":[-3,-2,-1,0,1,2,3,4,5],"labelExpr":"''+datum.value","labelPadding":16,"title":null}},
    "shape":{"field":"s","type":"nominal","legend":null,"scale":{"domain":["osq","oci","otr","fsq","fci","ftr","fdt","fdi","odt"],"range":["square","circle","triangle-up","square","circle","triangle-up","triangle-down","diamond","triangle-down"]}},
    "fill":{"field":"s","type":"nominal","legend":null,"scale":{"domain":["osq","oci","otr","fsq","fci","ftr","fdt","fdi","odt"],"range":["transparent","transparent","transparent","#151515","#2b3990","#c1001f","#9b9b9b","#111111","transparent"]}},
    "stroke":{"field":"s","type":"nominal","legend":null,"scale":{"domain":["osq","oci","otr","fsq","fci","ftr","fdt","fdi","odt"],"range":["#8a8a8a","#6970b5","#dd6b57","#151515","#2b3990","#c1001f","#9b9b9b","#111111","#b5b5b5"]}},
    "size":{"field":"s","type":"nominal","legend":null,"scale":{"domain":["osq","oci","otr","fsq","fci","ftr","fdt","fdi","odt"],"range":[45,45,48,64,60,64,56,36,50]}}}}
 ]}
],
"config":{
 "view":{"stroke":null},
 "axis":{"domainColor":"#555555","domainWidth":1.2,"tickColor":"#555555","tickWidth":1.2,"tickSize":-6,"labelFont":"Liberation Sans","labelFontSize":22,"labelColor":"#222222","labelFlush":false,"labelOverlap":false,"titleFont":"Liberation Sans","titleFontSize":23,"titleFontWeight":"normal","titleColor":"#222222","grid":false}
}
}
